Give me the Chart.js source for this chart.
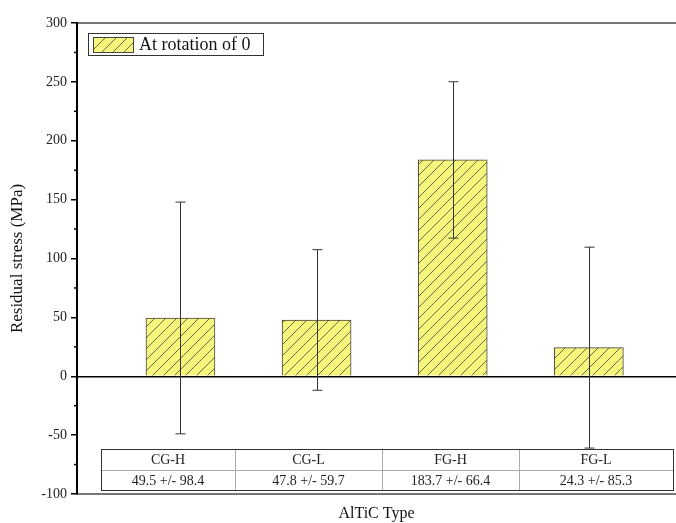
<!DOCTYPE html>
<html>
<head>
<meta charset="utf-8">
<script src="https://cdn.jsdelivr.net/npm/chart.js@4/dist/chart.umd.min.js"></script>
<style>
  html, body { margin: 0; padding: 0; background: #fff; }
  #wrap { width: 676px; height: 523px; }
</style>
</head>
<body>
<div id="wrap"><canvas id="chart" width="676" height="523"></canvas></div>
<script>
// Data
const categories = ["CG-H", "CG-L", "FG-H", "FG-L"];
const means = [49.5, 47.8, 183.7, 24.3];
const errors = [98.4, 59.7, 66.4, 85.3];
const seriesLabel = "At rotation of 0";
const yTicks = [-100, -50, 0, 50, 100, 150, 200, 250, 300];

const SERIF = "'Liberation Serif', 'Times New Roman', serif";

// hatch pattern
const makeHatch = () => {
  const c = document.createElement("canvas");
  c.width = 11;
  c.height = 11;
  const g = c.getContext("2d");
  g.fillStyle = "#f6f67c";
  g.fillRect(0, 0, 11, 11);
  g.strokeStyle = "#5a5a40";
  g.lineWidth = 0.9;
  g.beginPath();
  g.moveTo(0, 11);
  g.lineTo(11, 0);
  g.moveTo(-5.5, 5.5);
  g.lineTo(5.5, -5.5);
  g.moveTo(5.5, 16.5);
  g.lineTo(16.5, 5.5);
  g.stroke();
  return g.createPattern(c, "repeat");
};
const hatch = makeHatch();

// error bars
const errorBars = {
  id: "errorBars",
  afterDatasetsDraw(chart) {
    const { ctx } = chart;
    const yScale = chart.scales.y;
    const meta = chart.getDatasetMeta(0);
    ctx.save();
    ctx.strokeStyle = "#333";
    ctx.lineWidth = 1;
    meta.data.forEach((bar, i) => {
      const x = Math.round(bar.x) + 0.5;
      const top = yScale.getPixelForValue(means[i] + errors[i]);
      const bot = yScale.getPixelForValue(means[i] - errors[i]);
      ctx.beginPath();
      ctx.moveTo(x, top);
      ctx.lineTo(x, bot);
      ctx.moveTo(x - 5, top);
      ctx.lineTo(x + 5, top);
      ctx.moveTo(x - 5, bot);
      ctx.lineTo(x + 5, bot);
      ctx.stroke();
    });
    ctx.restore();
  },
};

// minor ticks on y axis
const minorTicks = {
  id: "minorTicks",
  afterDraw(chart) {
    const { ctx } = chart;
    const yScale = chart.scales.y;
    const left = chart.chartArea.left;
    ctx.save();
    ctx.strokeStyle = "#000";
    ctx.lineWidth = 1.5;
    for (let i = 0; i < yTicks.length - 1; i++) {
      const v = (yTicks[i] + yTicks[i + 1]) / 2;
      const y = yScale.getPixelForValue(v);
      ctx.beginPath();
      ctx.moveTo(left - 3, y);
      ctx.lineTo(left, y);
      ctx.stroke();
    }
    ctx.restore();
  },
};

// data table + legend box
const tableAndLegend = {
  id: "tableAndLegend",
  afterDraw(chart) {
    const { ctx } = chart;
    const cols = [101, 235, 382, 519, 673];
    const top = 449, mid = 470, bottom = 490;
    ctx.save();
    ctx.fillStyle = "#fff";
    ctx.fillRect(cols[0], top, cols[4] - cols[0], bottom - top);
    ctx.strokeStyle = "#aaa";
    ctx.lineWidth = 1;
    ctx.beginPath();
    ctx.moveTo(cols[0], mid + 0.5);
    ctx.lineTo(cols[4], mid + 0.5);
    for (let i = 1; i < cols.length - 1; i++) {
      ctx.moveTo(cols[i] + 0.5, top);
      ctx.lineTo(cols[i] + 0.5, bottom);
    }
    ctx.stroke();
    ctx.strokeStyle = "#333";
    ctx.strokeRect(cols[0] + 0.5, top + 0.5, cols[4] - cols[0], bottom - top);
    ctx.fillStyle = "#222";
    ctx.font = "14px " + SERIF;
    ctx.textAlign = "center";
    ctx.textBaseline = "middle";
    categories.forEach((cat, i) => {
      const cx = (cols[i] + cols[i + 1]) / 2;
      ctx.fillText(cat, cx, (top + mid) / 2 + 1);
      ctx.fillText(means[i] + " +/- " + errors[i], cx, (mid + bottom) / 2 + 1);
    });

    // legend
    ctx.strokeStyle = "#333";
    ctx.lineWidth = 1;
    ctx.fillStyle = "#fff";
    ctx.fillRect(88, 33, 175, 22);
    ctx.strokeRect(88.5, 33.5, 175, 22);
    ctx.fillStyle = hatch;
    ctx.fillRect(93, 37, 40, 15);
    ctx.strokeStyle = "#444";
    ctx.strokeRect(93.5, 37.5, 40, 15);
    ctx.fillStyle = "#111";
    ctx.font = "18px " + SERIF;
    ctx.textAlign = "left";
    ctx.fillText(seriesLabel, 139, 45);
    ctx.restore();
  },
};

new Chart(document.getElementById("chart"), {
  type: "bar",
  data: {
    datasets: [
      {
        label: seriesLabel,
        data: categories.map((c, i) => ({ x: i + 1, y: means[i] })),
        backgroundColor: hatch,
        borderColor: "#444",
        borderWidth: 1,
        barThickness: 69,
      },
    ],
  },
  options: {
    responsive: false,
    animation: false,
    layout: { padding: { top: 23, right: 0, left: 0, bottom: 0 } },
    plugins: {
      legend: { display: false },
      tooltip: { enabled: false },
    },
    scales: {
      x: {
        type: "linear",
        position: "bottom",
        offset: false,
        min: 0.24,
        max: 4.64,
        ticks: { display: false },
        grid: { display: false, offset: false },
        border: { color: "#777", width: 2 },
        title: {
          display: true,
          text: "AlTiC Type",
          color: "#111",
          font: { family: SERIF, size: 16 },
          padding: { top: 0, bottom: 0 },
        },
        afterFit: (scale) => {
          scale.height = 29;
        },
      },
      x2: {
        type: "linear",
        position: "top",
        offset: false,
        min: 0.24,
        max: 4.64,
        ticks: { display: false },
        grid: { display: false, offset: false },
        border: { color: "#777", width: 2 },
        afterFit: (scale) => {
          scale.height = 0;
        },
      },
      y: {
        min: -100,
        max: 300,
        afterBuildTicks: (scale) => {
          scale.ticks = yTicks.map((v) => ({ value: v }));
        },
        ticks: {
          color: "#222",
          font: { family: SERIF, size: 14 },
          padding: 4,
        },
        grid: {
          color: (ctx) => (ctx.tick && ctx.tick.value === 0 ? "#000" : "rgba(0,0,0,0)"),
          lineWidth: 1.5,
          tickColor: "#000",
          tickLength: 6,
          tickWidth: 1.5,
        },
        border: { color: "#000", width: 2 },
        title: {
          display: true,
          text: "Residual stress (MPa)",
          color: "#111",
          font: { family: SERIF, size: 17 },
          padding: { top: 7, bottom: 0 },
        },
        afterFit: (scale) => {
          scale.width = 77;
        },
      },
    },
  },
  plugins: [errorBars, minorTicks, tableAndLegend],
});
</script>
</body>
</html>
